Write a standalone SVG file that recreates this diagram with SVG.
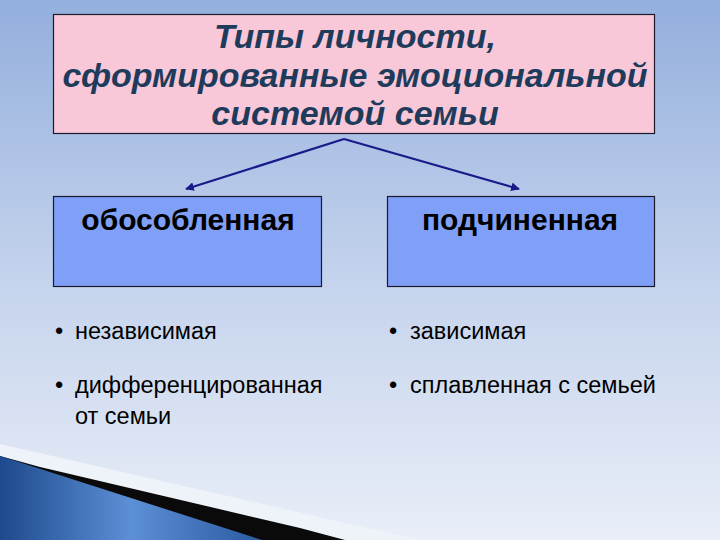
<svg xmlns="http://www.w3.org/2000/svg" width="720" height="540" viewBox="0 0 720 540">
<defs>
<linearGradient id="bg" x1="0" y1="0" x2="0" y2="1">
<stop offset="0" stop-color="#93afdd"/>
<stop offset="0.5" stop-color="#c3d2ec"/>
<stop offset="1" stop-color="#e9eef8"/>
</linearGradient>
<linearGradient id="swoosh" x1="0" y1="0" x2="1" y2="0">
<stop offset="0" stop-color="#1d4a8c"/>
<stop offset="0.5" stop-color="#5d8fd6"/>
<stop offset="1" stop-color="#2a5aa0"/>
</linearGradient>
<marker id="ah" viewBox="0 0 10 10" refX="9" refY="5" markerWidth="4" markerHeight="4" orient="auto">
<path d="M0,0 L10,5 L0,10 z" fill="#1a1a8a"/>
</marker>
<style>
.title{font-family:"Liberation Sans",Arial,sans-serif;font-weight:bold;font-style:italic;font-size:34px;fill:#1f3b5c;text-anchor:middle}
.head{font-family:"Liberation Sans",Arial,sans-serif;font-weight:bold;font-size:30px;fill:#000;text-anchor:middle}
.item{font-family:"Liberation Sans",Arial,sans-serif;font-size:23.5px;fill:#000}
.box{stroke:#1a1a2a;stroke-width:1.2}
.conn{stroke:#1a1a8a;stroke-width:2.2;fill:none;marker-end:url(#ah)}
</style>
</defs>
<rect width="720" height="540" fill="url(#bg)"/>
<polygon points="0,444 420,540 0,540" fill="#eef2f9"/>
<polygon points="40,467 300,528 345,540 0,540 0,456" fill="#0a0a0a"/>
<polygon points="0,456 262,540 0,540" fill="url(#swoosh)"/>

<g id="title">
<rect class="box" x="53.5" y="14.5" width="601" height="119" fill="#f8c8d8"/>
<text class="title" x="355" y="48">Типы личности,</text>
<text class="title" x="355" y="87">сформированные эмоциональной</text>
<text class="title" x="355" y="125">системой семьи</text>
</g>

<g id="connectors">
<line class="conn" x1="344" y1="139" x2="186" y2="189"/>
<line class="conn" x1="344" y1="139" x2="519" y2="189"/>
</g>

<g id="left">
<rect class="box" x="53.5" y="196.5" width="268" height="90" fill="#809ff6"/>
<text class="head" x="188" y="230">обособленная</text>
</g>

<g id="right">
<rect class="box" x="387.5" y="196.5" width="267" height="90" fill="#809ff6"/>
<text class="head" x="520" y="230">подчиненная</text>
</g>

<g id="left-items">
<text class="item" x="55" y="339">•</text>
<text class="item" x="75" y="339">независимая</text>
<text class="item" x="55" y="393">•</text>
<text class="item" x="75" y="393">дифференцированная</text>
<text class="item" x="75" y="424">от семьи</text>
</g>

<g id="right-items">
<text class="item" x="389" y="339">•</text>
<text class="item" x="410" y="339">зависимая</text>
<text class="item" x="389" y="393">•</text>
<text class="item" x="410" y="393">сплавленная с семьей</text>
</g>
</svg>
